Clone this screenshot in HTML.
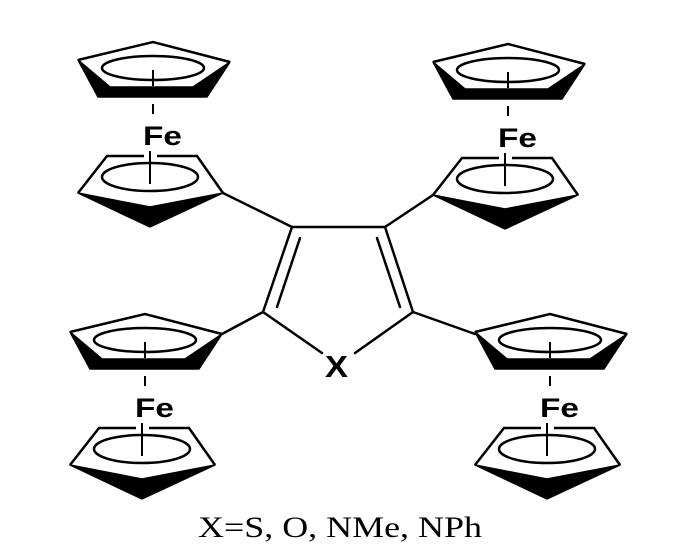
<!DOCTYPE html>
<html><head><meta charset="utf-8"><style>
html,body{margin:0;padding:0;background:#fff;}
svg{display:block;}
</style></head><body>
<svg width="678" height="556" viewBox="0 0 678 556" xmlns="http://www.w3.org/2000/svg">
<defs>
<g id="fc" stroke="#000" stroke-width="2.5" fill="none">
  <polyline points="78,60 153,42 230,62"/>
  <polygon points="78,60 98,97 207,97 230,62 193,87 110,87" fill="#000" stroke-width="1.5" stroke-linejoin="round"/>
  <ellipse cx="153" cy="68" rx="51" ry="12"/>
  <line x1="153" y1="70" x2="153" y2="86" stroke-width="2"/>
  <line x1="153" y1="104" x2="153" y2="114" stroke-width="2"/>
  <text x="143" y="145" textLength="39" lengthAdjust="spacingAndGlyphs" font-family="Liberation Sans, sans-serif" font-weight="bold" font-size="27" fill="#000" stroke="none">Fe</text>
  <polyline points="78,193 107,156 144,156"/>
  <polyline points="157,156 197,156 223,193"/>
  <polygon points="78,193 150,207 223,193 150,227" fill="#000" stroke-width="1.5" stroke-linejoin="round"/>
  <ellipse cx="150" cy="177" rx="48" ry="14"/>
  <line x1="150" y1="151" x2="150" y2="184" stroke-width="2"/>
</g>
</defs>
<use href="#fc"/>
<use href="#fc" transform="translate(355,2)"/>
<use href="#fc" transform="translate(-8,272)"/>
<use href="#fc" transform="translate(397,272)"/>
<g stroke="#000" stroke-width="2.5" fill="none" stroke-linecap="round">
  <line x1="292" y1="227" x2="385" y2="227"/>
  <line x1="292" y1="227" x2="263" y2="312"/>
  <line x1="385" y1="227" x2="413" y2="312"/>
  <line x1="263" y1="312" x2="322" y2="353"/>
  <line x1="413" y1="312" x2="355" y2="353"/>
  <line x1="300" y1="238" x2="277" y2="307"/>
  <line x1="377" y1="238" x2="400" y2="307"/>
  <line x1="223" y1="193" x2="292" y2="227"/>
  <line x1="433" y1="195" x2="385" y2="227"/>
  <line x1="222" y1="334" x2="263" y2="312"/>
  <line x1="475" y1="334" x2="413" y2="312"/>
</g>
<text x="325" y="377" textLength="23" lengthAdjust="spacingAndGlyphs" font-family="Liberation Sans, sans-serif" font-weight="bold" font-size="31">X</text>
<text x="198" y="537" textLength="284" lengthAdjust="spacingAndGlyphs" font-family="Liberation Serif, serif" font-size="30">X=S, O, NMe, NPh</text>
</svg>
</body></html>
